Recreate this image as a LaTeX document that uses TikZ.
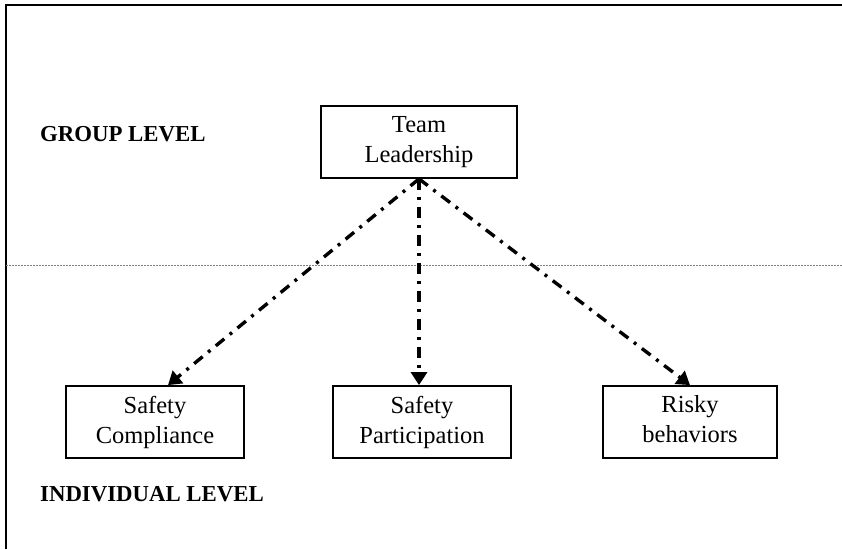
\documentclass[tikz,border=0pt]{standalone}
\usepackage{fontspec}
\setmainfont{Liberation Serif}
\usetikzlibrary{arrows.meta}
\begin{document}
\begin{tikzpicture}[x=1pt,y=-1pt,
  box/.style={draw=black,line width=1.8pt,minimum width=178pt,minimum height=72pt,
    align=center,font=\fontsize{24.5}{30}\selectfont,inner sep=0pt},
  level/.style={font=\fontsize{22.8}{26}\selectfont\bfseries,anchor=west,inner sep=0pt},
  link/.style={line width=3.4pt,dash pattern=on 11pt off 7pt on 3pt off 7pt,
    -{Triangle[width=16pt,length=13pt]}}]
\useasboundingbox (0,0) rectangle (842,549);
% open frame: top and left rules only
\draw[line width=2pt] (6,549) -- (6,5) -- (842,5);
% level separator
\draw[gray,line width=0.9pt,dash pattern=on 2pt off 1pt] (6,265) -- (842,265);
% level labels
\node[level] (grp) at (40,134) {GROUP LEVEL};
\node[level] (ind) at (40,494) {INDIVIDUAL LEVEL};
% construct boxes
\node[box,minimum width=196pt] (tl) at (419,142) {Team\\Leadership};
\node[box] (sc) at (155,422) {Safety\\Compliance};
\node[box] (sp) at (422,422) {Safety\\Participation};
\node[box,minimum width=174pt] (rb) at (690,422) {Risky\\behaviors\vphantom{p}};
% cross-level links
\coordinate (src) at (tl.south);
\draw[link] (src) -- (sc.north -| 168,0);
\draw[link] (src) -- (src |- sp.north);
\draw[link] (src) -- (rb.north);
\end{tikzpicture}
\end{document}
